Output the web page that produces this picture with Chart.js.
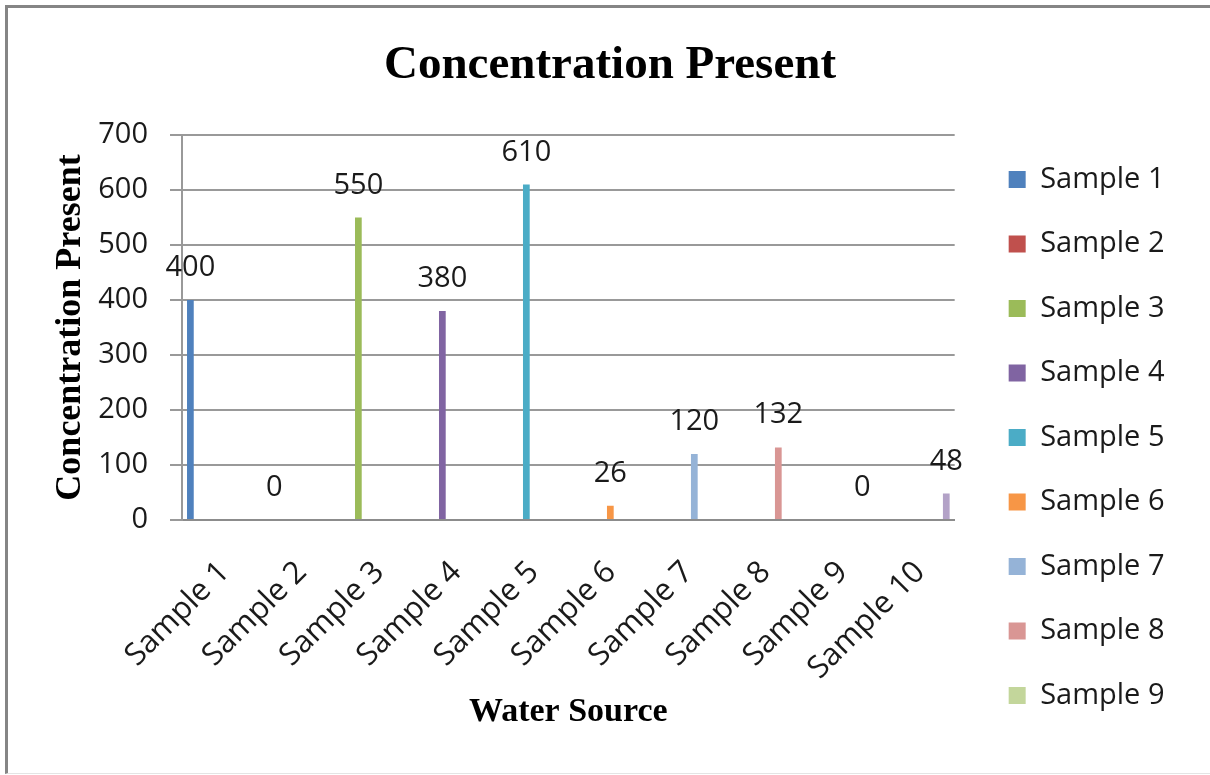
<!DOCTYPE html>
<html><head><meta charset="utf-8">
<script src="https://cdn.jsdelivr.net/npm/chart.js@4.4.1/dist/chart.umd.min.js"></script>
<style>
html,body{margin:0;padding:0;background:#fff;}
#wrap{position:relative;width:1210px;height:775px;overflow:hidden;}
#frame{position:absolute;left:5px;top:5px;right:-10px;bottom:1px;border-left:3px solid #858585;border-top:3px solid #858585;border-bottom:1px solid #e4e4e4;}
canvas{position:absolute;left:0;top:0;}
</style></head><body>
<div id="wrap"><div id="frame"></div><canvas id="c" width="1210" height="775"></canvas></div>
<script>
const categories = ['Sample 1','Sample 2','Sample 3','Sample 4','Sample 5','Sample 6','Sample 7','Sample 8','Sample 9','Sample 10'];
const seriesNames = ['Sample 1','Sample 2','Sample 3','Sample 4','Sample 5','Sample 6','Sample 7','Sample 8','Sample 9','Sample 10'];
const values = [400, 0, 550, 380, 610, 26, 120, 132, 0, 48];
const colors = ['#4F81BD','#C0504D','#9BBB59','#8064A2','#4BACC6','#F79646','#95B3D7','#D99694','#C3D69B','#B3A2C7'];
const yTicks = [0, 100, 200, 300, 400, 500, 600, 700];

const datasets = seriesNames.map((name, i) => ({
  label: name,
  data: categories.map((c, j) => (j === i ? values[i] : null)),
  backgroundColor: colors[i],
  borderWidth: 0,
  categoryPercentage: 0.87,
  barPercentage: 1.0
}));

const labelPlugin = {
  id: 'barLabels',
  afterDatasetsDraw(chart) {
    const ctx = chart.ctx;
    ctx.save();
    ctx.font = '29px "Open Sans"';
    ctx.fillStyle = '#1a1a1a';
    ctx.textAlign = 'center';
    ctx.textBaseline = 'alphabetic';
    chart.data.datasets.forEach((ds, i) => {
      const meta = chart.getDatasetMeta(i);
      ds.data.forEach((v, j) => {
        if (v === null) return;
        const el = meta.data[j];
        ctx.fillText(String(v), el.x, el.y - 24);
      });
    });
    ctx.restore();
  }
};

new Chart(document.getElementById('c'), {
  type: 'bar',
  data: { labels: categories, datasets },
  plugins: [labelPlugin],
  options: {
    responsive: false,
    animation: false,
    devicePixelRatio: 1,
    layout: { padding: { left: 45.5, right: 35.5, top: 0, bottom: 0 } },
    plugins: {
      tooltip: { enabled: false },
      title: {
        display: true,
        text: 'Concentration Present',
        color: '#000',
        font: { family: '"Liberation Serif", "Times New Roman", serif', size: 47, weight: 'bold' },
        padding: { top: 38, bottom: 40.6 }
      },
      legend: {
        position: 'right',
        maxWidth: 400,
        title: { display: true, text: '', font: { size: 10 }, padding: { top: 88, bottom: 0 } },
        labels: {
          filter: (item) => item.datasetIndex < 9,
          color: '#1a1a1a',
          font: { family: '"Open Sans"', size: 29 },
          boxWidth: 17,
          boxHeight: 17,
          padding: 35.5
        }
      }
    },
    scales: {
      x: {
        grid: { display: false },
        border: { display: true, color: '#8c8c8c', width: 2 },
        ticks: {
          color: '#1a1a1a',
          font: { family: '"Open Sans"', size: 31 },
          minRotation: 45, maxRotation: 45, autoSkip: false, padding: 26, labelOffset: 4
        },
        title: {
          display: true,
          text: 'Water Source',
          color: '#000',
          font: { family: '"Liberation Serif", "Times New Roman", serif', size: 34, weight: 'bold' },
          padding: { top: 0, bottom: 42 }
        },
        afterFit: (s) => { s.height = 255; }
      },
      y: {
        min: 0, max: 700,
        afterBuildTicks: (s) => { s.ticks = yTicks.map(v => ({ value: v })); },
        grid: { color: '#999', lineWidth: 2, tickLength: 12, drawTicks: true },
        border: { display: true, color: '#999', width: 2 },
        ticks: { color: '#1a1a1a', font: { family: '"Open Sans"', size: 29 }, padding: 22 },
        title: {
          display: true,
          text: 'Concentration Present',
          color: '#000',
          font: { family: '"Liberation Serif", "Times New Roman", serif', size: 36, weight: 'bold' },
          padding: { top: 4, bottom: 0 }
        },
        afterFit: (s) => { s.width = 136.5; }
      },
      gap: {
        type: 'linear',
        position: 'right',
        display: true,
        grid: { display: false },
        border: { display: false },
        ticks: { display: false },
        afterFit: (s) => { s.width = 18.5; }
      }
    }
  }
});
</script>
</body></html>
